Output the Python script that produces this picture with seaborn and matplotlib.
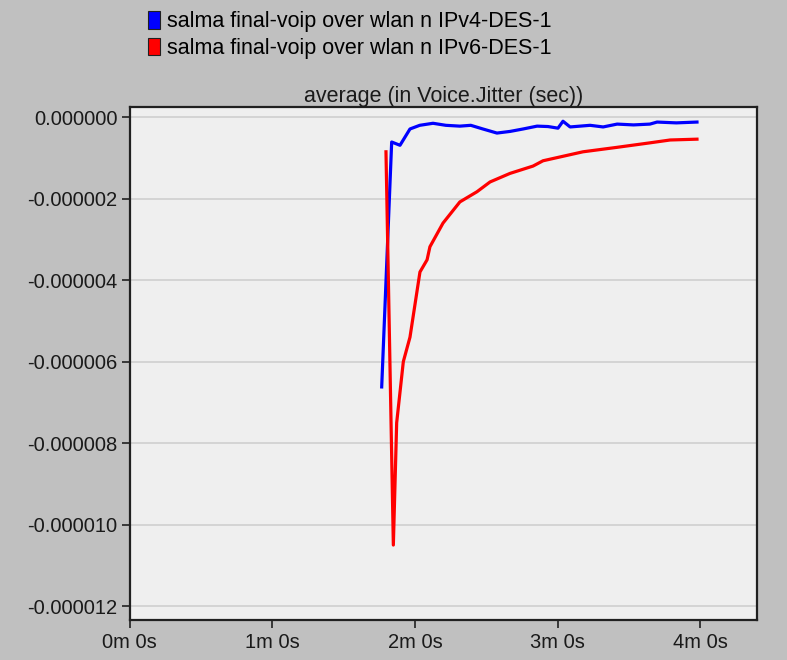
import pandas as pd
import seaborn as sns
import matplotlib.pyplot as plt
from matplotlib.patches import Patch
from matplotlib.ticker import FuncFormatter

plt.rcParams['font.family'] = ['Liberation Sans', 'DejaVu Sans']
plt.rcParams['axes.unicode_minus'] = False

# time in seconds, jitter in microseconds
t_v4 = [106.0, 110.2, 113.7, 117.9, 122.0, 127.6, 133.0, 138.9, 143.5, 148.6, 154.5,
        160.0, 165.5, 171.4, 176.0, 180.2, 182.3, 185.3, 189.5, 193.7, 199.2,
        205.1, 212.0, 218.9, 221.9, 230.0, 238.7]
jit_v4 = [-6.62, -0.61, -0.69, -0.29, -0.20, -0.15, -0.20, -0.22, -0.20, -0.29, -0.39,
          -0.35, -0.29, -0.22, -0.23, -0.27, -0.10, -0.24, -0.22, -0.20, -0.24,
          -0.17, -0.19, -0.17, -0.12, -0.14, -0.12]

t_v6 = [107.8, 110.9, 112.3, 115.1, 117.9, 122.1, 125.1, 126.3, 131.8, 138.9,
        146.1, 151.6, 160.0, 169.7, 173.9, 182.3, 190.7, 205.1, 218.9, 227.4, 238.7]
jit_v6 = [-0.85, -10.5, -7.5, -6.0, -5.4, -3.8, -3.5, -3.18, -2.6, -2.08,
          -1.83, -1.59, -1.38, -1.2, -1.07, -0.96, -0.85, -0.74, -0.63, -0.56, -0.54]

names = ['salma final-voip over wlan n IPv4-DES-1',
         'salma final-voip over wlan n IPv6-DES-1']
colors = ['#0000ff', '#ff0000']
xticks = [0, 60, 120, 180, 240]
xlabels = ['0m 0s', '1m 0s', '2m 0s', '3m 0s', '4m 0s']

df = pd.concat([
    pd.DataFrame({'t': t_v4, 'jitter': [v * 1e-6 for v in jit_v4], 'run': names[0]}),
    pd.DataFrame({'t': t_v6, 'jitter': [v * 1e-6 for v in jit_v6], 'run': names[1]}),
])

fig = plt.figure(figsize=(7.87, 6.60), dpi=100, facecolor='#c0c0c0')
ax = fig.add_axes([0.165, 0.0606, 0.797, 0.777])
ax.set_facecolor('#efefef')

sns.lineplot(data=df, x='t', y='jitter', hue='run', palette=colors,
             linewidth=2.3, sort=False, estimator=None, legend=False, ax=ax, zorder=3)

ax.set_xlim(0, 264)
ax.set_ylim(-12.34e-6, 0.245e-6)
ax.set_xticks(xticks)
ax.set_xticklabels(xlabels)
ax.set_yticks([-12e-6, -10e-6, -8e-6, -6e-6, -4e-6, -2e-6, 0])
ax.yaxis.set_major_formatter(FuncFormatter(lambda v, p: '%.6f' % (v + 0.0)))
ax.grid(axis='y', color='#cfcfcf', linewidth=1.2)
ax.set_axisbelow(True)
ax.set_xlabel('')
ax.set_ylabel('')
for s in ax.spines.values():
    s.set_color('#202020')
    s.set_linewidth(1.6)
ax.tick_params(axis='both', direction='out', length=6, width=1.2, color='#202020',
               labelsize=14.5, labelcolor='#1a1a1a', pad=3)

ax.set_title('average (in Voice.Jitter (sec))', fontsize=15.5, color='#1a1a1a', pad=3)

handles = [Patch(facecolor=c, edgecolor='#202020', linewidth=0.8) for c in colors]
fig.legend(handles, names, loc='upper left', bbox_to_anchor=(0.175, 1.0),
           frameon=False, fontsize=15.5, handlelength=0.55, handleheight=0.9,
           handletextpad=0.3, labelspacing=0.25, borderaxespad=0.1)

plt.savefig('out.png', dpi=100, facecolor=fig.get_facecolor())
